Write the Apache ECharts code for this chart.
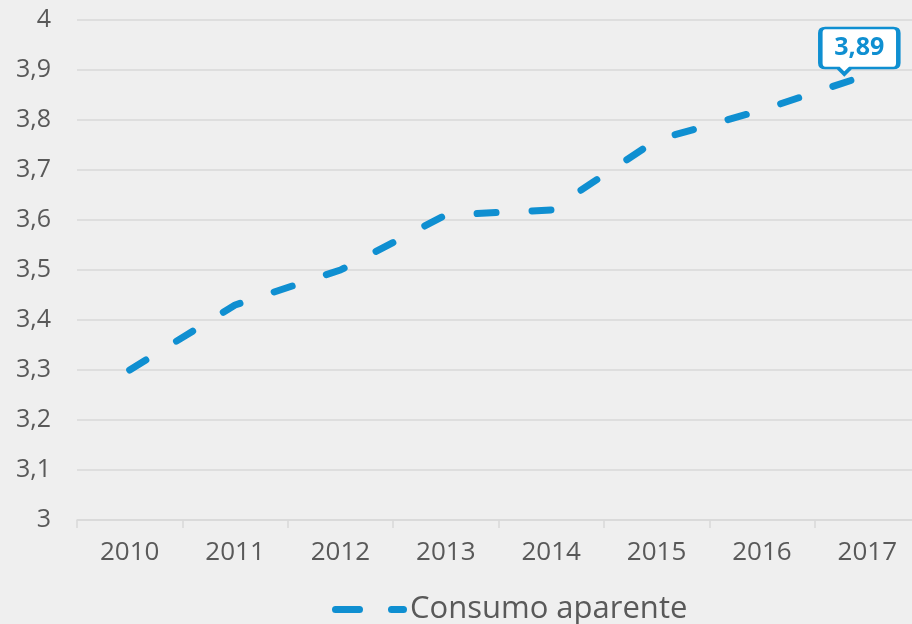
<!DOCTYPE html>
<html><head><meta charset="utf-8">
<script src="https://cdn.jsdelivr.net/npm/echarts@6/dist/echarts.min.js"></script>
<style>html,body{margin:0;padding:0;background:#efefef;}#c{width:912px;height:624px;}</style>
</head><body><div id="c"></div>
<script>
var categories = ['2010','2011','2012','2013','2014','2015','2016','2017'];
var consumoAparente = [3.30, 3.43, 3.50, 3.61, 3.62, 3.76, 3.82, 3.89];
var seriesName = 'Consumo aparente';
var yTicks = {min: 3, max: 4, interval: 0.1};

var blue = '#0f8fd1';
var fmt = function(v){ return String(Math.round(v*100)/100).replace('.', ','); };
var lastIdx = consumoAparente.length - 1;
var chart = echarts.init(document.getElementById('c'));
chart.setOption({
  backgroundColor: '#efefef',
  animation: false,
  textStyle: {fontFamily: 'Open Sans'},
  grid: {left: 77, width: 843, top: 20, height: 500, outerBoundsMode: 'none', containLabel: false},
  legend: {
    top: 589, left: 327,
    itemWidth: 75, itemHeight: 7,
    itemGap: 6,
    textStyle: {fontSize: 31, color: '#595959', fontFamily: 'Open Sans', padding: [0, 0, 0, -2]},
    data: [{name: seriesName, icon: 'path://M3.5,0 L27.5,0 A3.5,3.5 0 0 1 27.5,7 L3.5,7 A3.5,3.5 0 0 1 3.5,0 Z M59.5,0 L71.5,0 A3.5,3.5 0 0 1 71.5,7 L59.5,7 A3.5,3.5 0 0 1 59.5,0 Z'}]
  },
  xAxis: {
    type: 'category', data: categories, boundaryGap: true,
    axisLine: {lineStyle: {color: '#d9d9d9', width: 1.5}},
    axisTick: {show: true, length: 8, lineStyle: {color: '#d9d9d9', width: 1.5}},
    axisLabel: {color: '#595959', fontSize: 26, margin: 20}
  },
  yAxis: {
    type: 'value', min: yTicks.min, max: yTicks.max, interval: yTicks.interval,
    axisLine: {show: false}, axisTick: {show: false},
    splitLine: {lineStyle: {color: '#d9d9d9', width: 1.5}},
    axisLabel: {color: '#595959', fontSize: 25, margin: 26, formatter: fmt}
  },
  series: [{
    name: seriesName, type: 'line', data: consumoAparente,
    showSymbol: false, symbol: 'none',
    itemStyle: {color: blue},
    lineStyle: {color: blue, width: 7, type: [19, 36], cap: 'round', join: 'round'},
    markPoint: {
      symbol: 'path://M5,0 L73,0 Q78,0 78,5 L78,35 Q78,40 73,40 L30,40 L24,46 L18,40 L5,40 Q0,40 0,35 L0,5 Q0,0 5,0 Z',
      symbolSize: [78, 46],
      symbolOffset: [-8, -24],
      itemStyle: {color: '#ffffff', borderColor: blue, borderWidth: 3.5},
      label: {show: true, position: 'inside', offset: [0, -3], color: blue, fontSize: 25, fontWeight: 'bold', fontFamily: 'Open Sans', formatter: function(p){ return fmt(p.value); }},
      data: [{coord: [categories[lastIdx], consumoAparente[lastIdx]], value: consumoAparente[lastIdx]}]
    }
  }]
});
</script></body></html>
